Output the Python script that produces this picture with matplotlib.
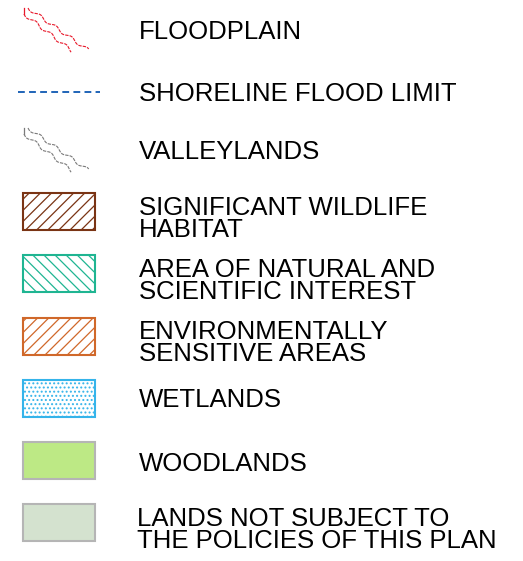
import numpy as np
import matplotlib.pyplot as plt
from matplotlib.patches import Rectangle

# legend entries
labels = [
    "FLOODPLAIN",
    "SHORELINE FLOOD LIMIT",
    "VALLEYLANDS",
    "SIGNIFICANT WILDLIFE\nHABITAT",
    "AREA OF NATURAL AND\nSCIENTIFIC INTEREST",
    "ENVIRONMENTALLY\nSENSITIVE AREAS",
    "WETLANDS",
    "WOODLANDS",
    "LANDS NOT SUBJECT TO\nTHE POLICIES OF THIS PLAN",
]
label_y = [32, 94, 152, 219, 281, 343, 400, 464, 530]
symbol_y = [30, 92, 150, 193, 255, 318, 380, 442, 504]
kinds = ["squiggle", "dash", "squiggle", "hatch", "hatch", "hatch", "dots", "fill", "fill"]
edge_colors = ["#e8182a", "#1f64b8", "#7a7a7a", "#7a3414", "#1fb592", "#d0682a", "#35b4ea", "#b5b5b5", "#b5b5b5"]
face_colors = ["none", "none", "none", "none", "none", "none", "none", "#bde985", "#d4e2cf"]
hatches = [None, None, None, "///", "\\\\\\", "///", "....", None, None]

W, H = 523, 561
fig = plt.figure(figsize=(W / 100, H / 100), dpi=100)
ax = fig.add_axes([0, 0, 1, 1])
ax.set_xlim(0, W)
ax.set_ylim(H, 0)
ax.axis("off")


def wiggle(x0, y0, x1, y1, amp=1.6, period=19):
    t = np.linspace(0, 1, 300)
    L = np.hypot(x1 - x0, y1 - y0)
    nx, ny = -(y1 - y0) / L, (x1 - x0) / L
    w = amp * np.sin(2 * np.pi * t * L / period)
    return x0 + (x1 - x0) * t + nx * w, y0 + (y1 - y0) * t + ny * w


for i, kind in enumerate(kinds):
    col = edge_colors[i]
    y = symbol_y[i]
    if kind == "squiggle":
        for (a, b, c, d) in [(28, y - 22, 88, y + 20), (24, y - 16, 72, y + 21)]:
            xs, ys = wiggle(a, b, c, d)
            ax.plot(xs, ys, color=col, lw=0.8, ls=(0, (3, 1.0)))
        ax.plot([24, 24], [y - 22, y - 16], color=col, lw=0.9)
    elif kind == "dash":
        ax.plot([18, 100], [y, y], color=col, lw=1.4, ls=(0, (3.5, 2.2)))
    else:
        plt.rcParams["hatch.color"] = col
        plt.rcParams["hatch.linewidth"] = 0.9
        r = Rectangle((23, y), 72, 37, facecolor=face_colors[i],
                      edgecolor=col, lw=1.5, hatch=hatches[i])
        ax.add_patch(r)

for i, lab in enumerate(labels):
    x = 137 if i == len(labels) - 1 else 139
    ax.text(x, label_y[i], lab, fontsize=18.5, family="Liberation Sans",
            va="center", ha="left", linespacing=0.85, color="black")

fig.savefig("out.png", dpi=100)
